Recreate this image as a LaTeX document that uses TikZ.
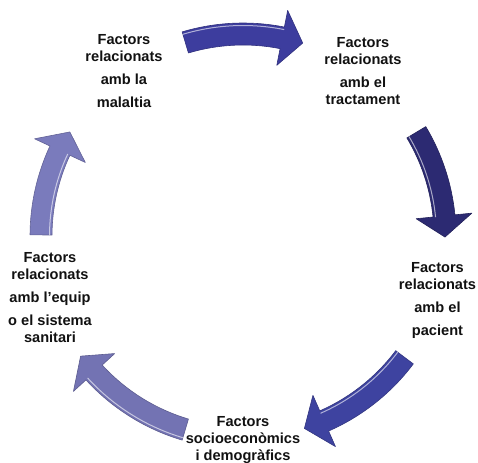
\documentclass[tikz,border=0pt]{standalone}
\usepackage{fontspec}
\setmainfont{Liberation Sans}
\usepackage{tikz}
\usetikzlibrary{calc}
\definecolor{ink} {HTML}{111111}
\definecolor{arrA}{HTML}{3D3D9E}
\definecolor{arrB}{HTML}{2C2A72}
\definecolor{arrC}{HTML}{3E43A0}
\definecolor{arrD}{HTML}{7373B3}
\definecolor{arrE}{HTML}{7A7BBC}
\tikzset{
  factor/.style  ={anchor=north, align=center, inner sep=0pt, text=ink,
                   font=\fontsize{7.3}{8.5}\selectfont\bfseries},
  cyclearr/.style={fill=#1, draw=#1!80!black, line width=0.3pt, line join=round},
  glint/.style   ={draw=white, opacity=0.6, line width=0.5pt, line cap=round},
}

\begin{document}
\begin{tikzpicture}[x=0.5pt,y=0.5pt]
    \useasboundingbox (0,0) rectangle (478,462);
    \coordinate (cyc) at (243,226);

    % factor labels
    \node[factor] (mal) at (124,428)   {Factors\\relacionats\\[3pt]amb la\\[3pt]malaltia};
    \node[factor] (tra) at (363,425)   {Factors\\relacionats\\[3pt]amb el\\tractament};
    \node[factor] (pac) at (437.5,200) {Factors\\relacionats\\[3pt]amb el\\[3pt]pacient};
    \node[factor] (soc) at (243,45.5)  {Factors\\socioeconòmics\\i demogràfics};
    \node[factor] (san) at (50,209.5)  {Factors\\relacionats\\[3pt]amb l’equip\\[3pt]o el sistema\\sanitari};

    % cycle arrows: tail angle / tip angle / colour / glint offset
    \begin{scope}[shift={(cyc)}]
      \foreach \ta/\tb/\col/\gl in {106.6/72.8/arrA/8.5, 30.9/-0.3/arrB/-8.5,
                                    -36.9/-72.3/arrC/-8.5, -106.6/-143.5/arrD/8.5,
                                    179.7/149/arrE/-8.5}{
        \pgfmathsetmacro{\tc}{\tb+6}
        \pgfmathsetmacro{\rg}{202+\gl}
        \path[cyclearr=\col] (\ta:213) arc[start angle=\ta, end angle=\tc, radius=213]
          -- (\tc:230) -- (\tb:202) -- (\tc:174) -- (\tc:191)
          arc[start angle=\tc, end angle=\ta, radius=191] -- cycle;
        \draw[glint] (\ta:\rg) arc[start angle=\ta, end angle=\tc, radius=\rg];
      }
    \end{scope}
\end{tikzpicture}
\end{document}
